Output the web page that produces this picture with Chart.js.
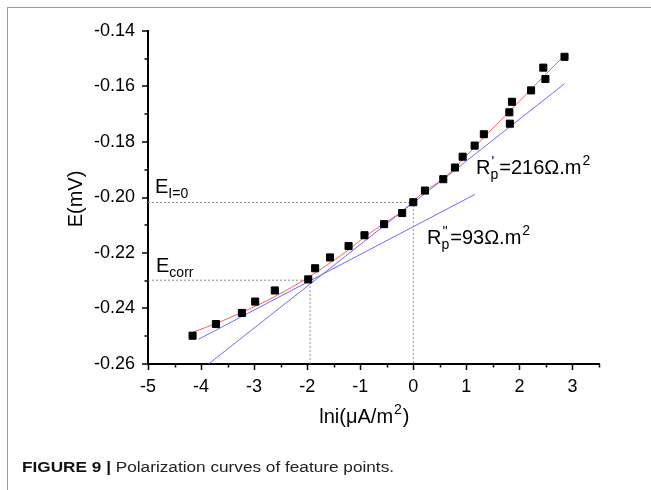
<!DOCTYPE html>
<html>
<head>
<meta charset="utf-8">
<script src="https://cdn.jsdelivr.net/npm/chart.js@4.4.1/dist/chart.umd.min.js"></script>
<style>
  html, body { margin: 0; padding: 0; background: #fff; }
  #wrap { position: relative; width: 651px; height: 490px; overflow: hidden; }
  #frame { position: absolute; left: 7px; top: 7px; right: -2px; bottom: -2px;
           border-left: 1px solid #9a9a9a; border-top: 1px solid #9a9a9a; }
  canvas { position: absolute; left: 0; top: 0; }
  #caption { position: absolute; left: 22px; top: 459px; font: 15.5px "Liberation Sans", Arial, sans-serif;
             line-height: 16px; color: #222; white-space: nowrap; transform: scaleX(1.11); transform-origin: left top; }
  #caption b { color: #111; }
</style>
</head>
<body>
<div id="wrap">
  <div id="frame"></div>
  <canvas id="chart" width="651" height="490"></canvas>
  <div id="caption"><b>FIGURE 9 |</b> Polarization curves of feature points.</div>
</div>
<script>
// ── DATA ─────────────────────────────────────────

// measured feature points: ln i vs E
const LNI    = [-4.16, -3.72, -3.23, -2.98, -2.61, -1.98, -1.85, -1.57, -1.22, -0.92, -0.55, -0.21, 0.00,
                0.22, 0.565, 0.785, 0.93, 1.156, 1.33, 1.82, 1.81, 1.86, 2.22, 2.49, 2.45, 2.85];
const E_MEAS = [-0.2498, -0.2456, -0.2416, -0.2375, -0.2335, -0.2295, -0.2255, -0.2216, -0.2175, -0.2136, -0.2096, -0.2056, -0.2017,
                -0.1975, -0.1934, -0.1892, -0.1853, -0.1813, -0.1772, -0.1734, -0.1693, -0.1655, -0.1614, -0.1573, -0.1532, -0.1493];

// red fitted curve
const FIT_X = [-4.16, -3.72, -3.23, -2.61, -1.98, -1.57, -1.22, -0.92, -0.55, -0.21, 0, 0.22, 0.565, 0.93, 1.33, 1.82, 2.22, 2.49, 2.85];
const FIT_E = [-0.2486, -0.2454, -0.2414, -0.2357, -0.2288, -0.2236, -0.2189, -0.2142, -0.2094, -0.2049, -0.2012,
               -0.1977, -0.1932, -0.1864, -0.1783, -0.1688, -0.1610, -0.1557, -0.1488];

// blue tangent lines (R'p steep, R''p shallow)
const TAN_STEEP_X = [-3.86, 2.85];
const TAN_STEEP_E = [-0.26, -0.1590];
const TAN_FLAT_X  = [-4.05, 1.16];
const TAN_FLAT_E  = [-0.2511, -0.1989];

// characteristic points
const E_I0   = -0.2018;   // E at I=0, lni = 0
const LNI_I0 = 0;
const E_CORR   = -0.2298;
const LNI_CORR = -1.945;

// axes
const X_TICKS = [-5, -4, -3, -2, -1, 0, 1, 2, 3];
const X_MINOR = [-4.5, -3.5, -2.5, -1.5, -0.5, 0.5, 1.5, 2.5, 3.5];
const Y_TICKS = [-0.26, -0.24, -0.22, -0.20, -0.18, -0.16, -0.14];
const Y_MINOR = [-0.25, -0.23, -0.21, -0.19, -0.17, -0.15];

const FONT = '"Liberation Sans", Arial, sans-serif';

const pts = (xs, ys) => xs.map((x, i) => ({ x, y: ys[i] }));

// ── TICKS, TITLES, ANNOTATIONS ───────────────────

function subText(ctx, x, y, base, sub, sup, size) {
  ctx.font = size + "px " + FONT;
  ctx.fillText(base, x, y);
  let w = ctx.measureText(base).width;
  const small = Math.round(size * 0.68);
  ctx.font = small + "px " + FONT;
  ctx.fillText(sub, x + w, y + 5);
  if (sup) ctx.fillText(sup, x + w + 1, y - 8);
  return x + w + ctx.measureText(sub).width;
}

// text with a raised "2" after it, then optional tail
function supText(ctx, x, y, head, tail) {
  ctx.font = "20px " + FONT;
  ctx.fillText(head, x, y);
  let w = ctx.measureText(head).width;
  ctx.font = "14px " + FONT;
  ctx.fillText("2", x + w + 1, y - 9);
  w += ctx.measureText("2").width + 2;
  if (tail) {
    ctx.font = "20px " + FONT;
    ctx.fillText(tail, x + w, y);
    w += ctx.measureText(tail).width;
  }
  return w;
}

const decor = {
  id: "decor",
  afterDraw(chart) {
    const { ctx, scales: { x, y } } = chart;
    ctx.save();
    ctx.strokeStyle = "#000";
    ctx.lineWidth = 1.5;
    ctx.beginPath();
    X_TICKS.forEach(v => { const p = Math.round(x.getPixelForValue(v)) + 0.5; ctx.moveTo(p, y.bottom); ctx.lineTo(p, y.bottom + 6); });
    X_MINOR.forEach(v => { const p = Math.round(x.getPixelForValue(v)) + 0.5; ctx.moveTo(p, y.bottom); ctx.lineTo(p, y.bottom + 3.5); });
    Y_TICKS.forEach(v => { const p = Math.round(y.getPixelForValue(v)); ctx.moveTo(x.left, p); ctx.lineTo(x.left - 6, p); });
    Y_MINOR.forEach(v => { const p = Math.round(y.getPixelForValue(v)); ctx.moveTo(x.left, p); ctx.lineTo(x.left - 3.5, p); });
    ctx.stroke();

    ctx.fillStyle = "#000";
    ctx.textBaseline = "alphabetic";
    ctx.textAlign = "left";

    // x axis title, centred by measuring it first
    ctx.font = "20px " + FONT;
    const xw = ctx.measureText("lni(μA/m").width + ctx.measureText(")").width + 11;
    supText(ctx, 365 - xw / 2, 423, "lni(μA/m", ")");

    // y axis title
    ctx.save();
    ctx.translate(82, 199);
    ctx.rotate(-Math.PI / 2);
    ctx.font = "20px " + FONT;
    ctx.textAlign = "center";
    ctx.fillText("E(mV)", 0, 0);
    ctx.restore();

    // annotations
    subText(ctx, 155, 193, "E", "I=0", null, 20);
    subText(ctx, 156, 272, "E", "corr", null, 20);
    let nx = subText(ctx, 476, 174, "R", "p", "'", 20);
    supText(ctx, nx + 1, 174, "=216Ω.m");
    nx = subText(ctx, 427, 244, "R", "p", "''", 20);
    supText(ctx, nx + 1, 244, "=93Ω.m");
    ctx.restore();
  }
};

// ── CHART ────────────────────────────────────────

const lineSet = (label, data, color, extra) => Object.assign({
  label, data, showLine: true, borderColor: color, borderWidth: 1,
  pointRadius: 0, pointHoverRadius: 0, fill: false, order: 2
}, extra || {});

new Chart(document.getElementById("chart"), {
  type: "scatter",
  data: {
    datasets: [
      {
        label: "Feature points",
        data: pts(LNI, E_MEAS),
        pointStyle: "rect",
        pointRadius: 5,
        backgroundColor: "#000",
        borderColor: "#000",
        borderWidth: 1,
        order: 0,
      },
      lineSet("Fit", pts(FIT_X, FIT_E), "#ff5c5c", { cubicInterpolationMode: "monotone", order: 1 }),
      lineSet("R'p", pts(TAN_STEEP_X, TAN_STEEP_E), "#6b6bff"),
      lineSet("R''p", pts(TAN_FLAT_X, TAN_FLAT_E), "#6b6bff"),
      lineSet("E I=0", [{ x: -5, y: E_I0 }, { x: LNI_I0, y: E_I0 }, { x: LNI_I0, y: -0.26 }], "#8c8c8c", { borderDash: [2, 2], order: 3 }),
      lineSet("E corr", [{ x: -5, y: E_CORR }, { x: LNI_CORR, y: E_CORR }, { x: LNI_CORR, y: -0.26 }], "#8c8c8c", { borderDash: [2, 2], order: 3 }),
    ],
  },
  options: {
    responsive: false,
    animation: false,
    layout: { padding: { left: 0, top: 31, right: 52, bottom: 0 } },
    plugins: { legend: { display: false }, tooltip: { enabled: false } },
    scales: {
      x: {
        type: "linear",
        min: -5, max: 3.5,
        afterBuildTicks: s => { s.ticks = X_TICKS.map(v => ({ value: v })); },
        afterFit: s => { s.height = 126; },
        grid: { display: false, drawTicks: false },
        border: { display: true, color: "#000", width: 2 },
        ticks: { color: "#000", padding: 12, font: { family: FONT, size: 18 }, maxRotation: 0 },
      },
      y: {
        type: "linear",
        min: -0.26, max: -0.14,
        afterBuildTicks: s => { s.ticks = Y_TICKS.map(v => ({ value: v })); },
        afterFit: s => { s.width = 148; },
        grid: { display: false, drawTicks: false },
        border: { display: true, color: "#000", width: 2 },
        ticks: { color: "#000", padding: 13, font: { family: FONT, size: 18 }, callback: v => v.toFixed(2) },
      },
    },
  },
  plugins: [decor],
});
</script>
</body>
</html>
